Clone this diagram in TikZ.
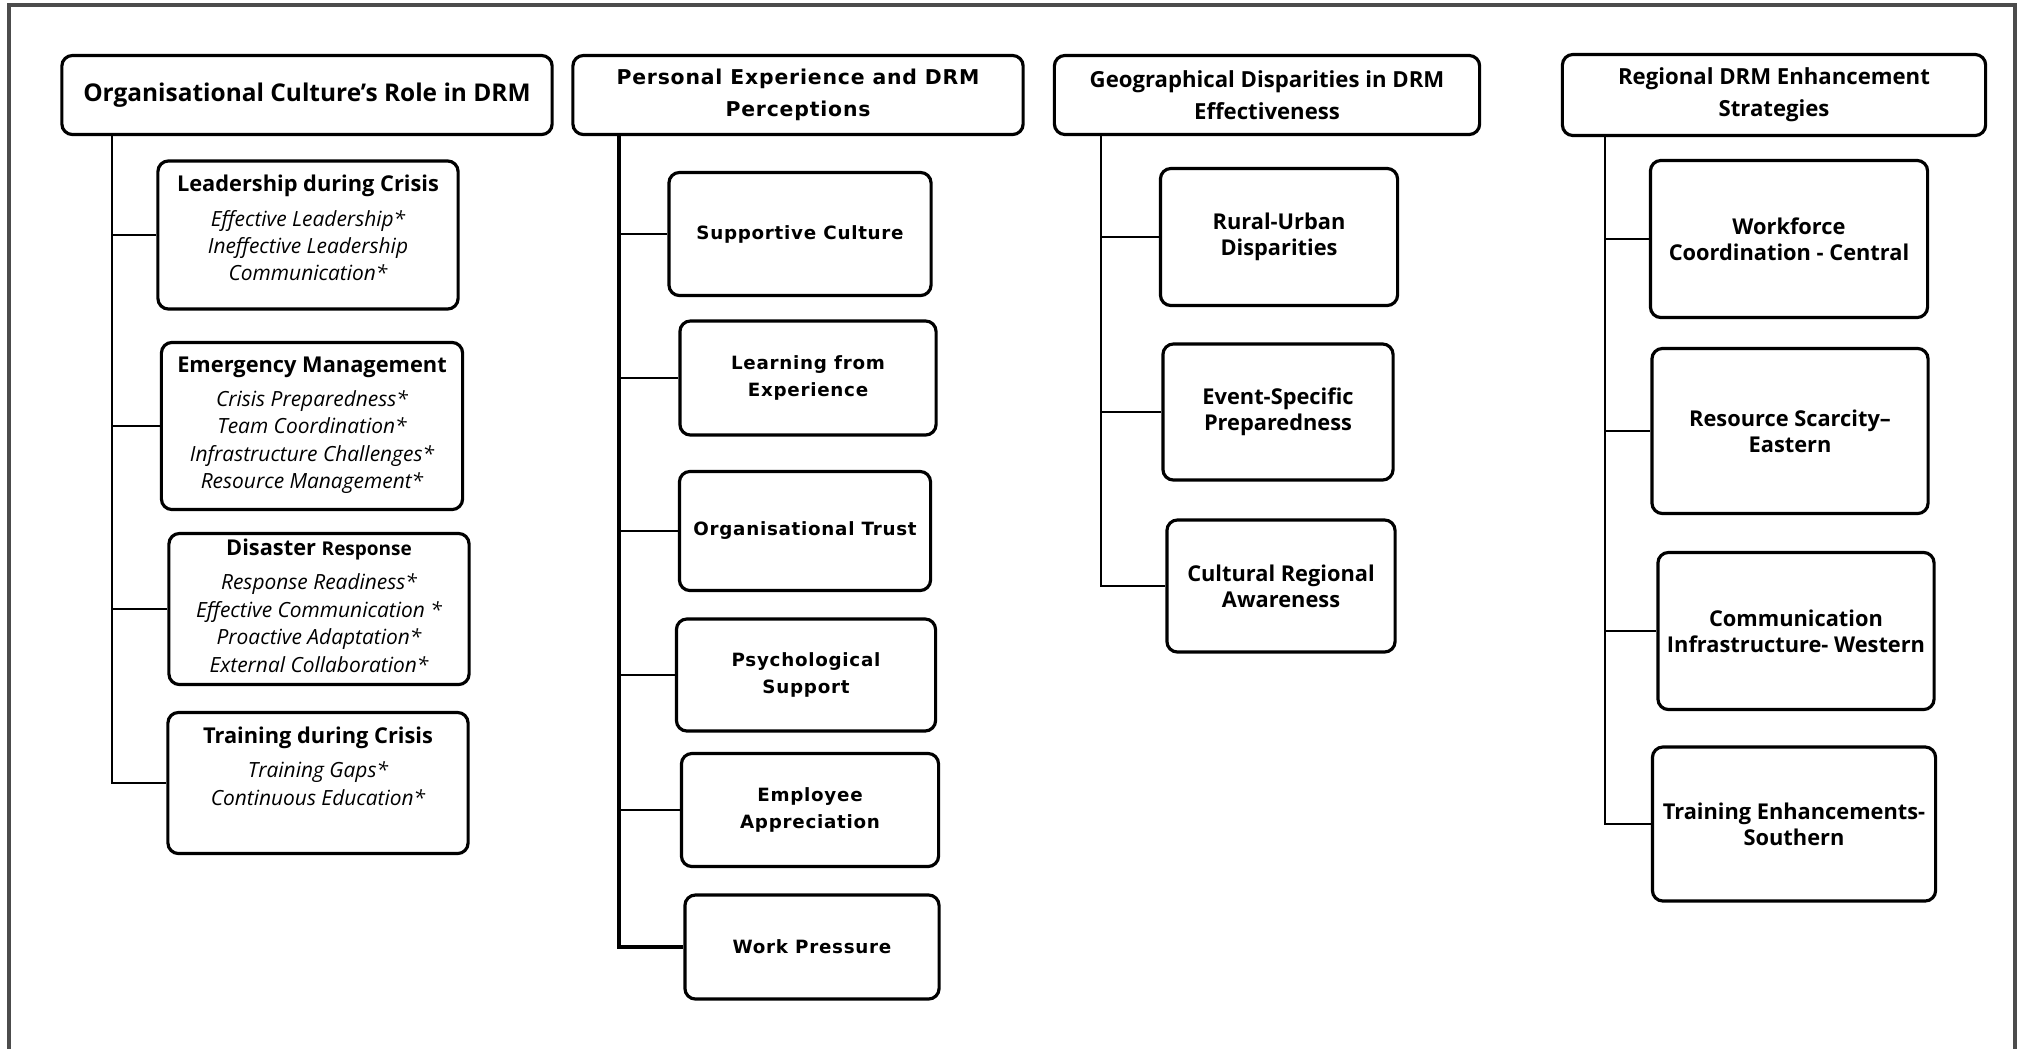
\documentclass[tikz,border=0pt]{standalone}
\usepackage{fontspec}
\setmainfont{Open Sans}
\newfontfamily\widefont{DejaVu Sans}[LetterSpace=4]
\usetikzlibrary{positioning}

% text block pinned to the top of a box
\newcommand{\topbox}[3][4pt]{\parbox[c][#2][t]{3.0cm}{\centering\vspace*{#1}#3}}
\newcommand{\itemfont}{\fontsize{5.95}{7.8}\selectfont\itshape}

\begin{document}
\begin{tikzpicture}[x=0.01cm, y=-0.01cm,
          head/.style={rectangle, draw, line width=0.9pt, rounded corners=3pt,
                       align=center, inner sep=0pt, minimum height=0.79cm,
                       font=\fontsize{6.3}{9}\selectfont\bfseries},
          topic/.style={rectangle, draw, line width=0.9pt, rounded corners=3pt,
                        inner sep=0pt, font=\fontsize{6.2}{8}\selectfont},
          leaf/.style={rectangle, draw, line width=0.9pt, rounded corners=3pt,
                       align=center, inner sep=0pt,
                       font=\fontsize{6.2}{7.4}\selectfont\bfseries},
          wide/.style={leaf, font=\widefont\fontsize{5.2}{7.6}\selectfont\bfseries},
          link/.style={line width=0.7pt}
        ]
        \useasboundingbox (0,0) rectangle (2022,1048);
        % outer frame, open at the bottom
        \draw[black!70, line width=0.9pt] (9,1060) |- (2015,5) -- (2015,1060);

        % Column 1: organisational culture
        \node[head, font=\fontsize{6.95}{9}\selectfont\bfseries,
              minimum width=4.9cm] (oc) at (307,95)
              {Organisational Culture's Role in DRM};
        \coordinate (t1) at (112,0);
        \node[topic, minimum width=2.89cm] (lead) at (308,235)
              {\topbox{1.48cm}{{\bfseries Leadership during Crisis}\\[2pt]
               \itemfont Effective Leadership*\\ Ineffective Leadership\\
               Communication*}};
        \node[topic, minimum width=3.01cm] (emerg) at (312,426)
              {\topbox{1.67cm}{{\bfseries Emergency Management}\\[2pt]
               \itemfont Crisis Preparedness*\\ Team Coordination*\\
               Infrastructure Challenges*\\ Resource Management*}};
        \node[topic, minimum width=2.93cm] (disas) at (319,609)
              {\topbox[1.5pt]{1.51cm}{{\bfseries Disaster {\fontsize{5.4}{7}\selectfont Response}}\\[2pt]
               \itemfont Response Readiness*\\ Effective Communication *\\
               Proactive Adaptation*\\ External Collaboration*}};
        \node[topic, minimum width=2.92cm] (train) at (318,783)
              {\topbox{1.41cm}{{\bfseries Training during Crisis}\\[2pt]
               \itemfont Training Gaps*\\ Continuous Education*}};
        \draw[link] (oc.south -| t1) |- (train.west);
        \draw[link] (t1 |- lead.west) -- (lead.west);
        \draw[link] (t1 |- emerg.west) -- (emerg.west);
        \draw[link] (t1 |- disas.west) -- (disas.west);

        % Column 2: personal experience
        \node[head, font=\widefont\fontsize{5.8}{9}\selectfont\bfseries,
              minimum width=4.5cm] (pe) at (798,95)
              {Personal Experience and DRM\\ Perceptions};
        \coordinate (t2) at (619,0);
        \node[wide, minimum width=2.62cm, minimum height=1.23cm] (supp) at (800,234)
              {Supportive Culture};
        \node[wide, minimum width=2.56cm, minimum height=1.14cm] (learn) at (808,378)
              {Learning from\\ Experience};
        \node[wide, minimum width=2.51cm, minimum height=1.19cm] (trust) at (805,531)
              {Organisational Trust};
        \node[wide, minimum width=2.59cm, minimum height=1.12cm] (psych) at (806,675)
              {Psychological\\ Support};
        \node[wide, minimum width=2.57cm, minimum height=1.13cm] (appr) at (810,810)
              {Employee\\ Appreciation};
        \node[wide, minimum width=2.54cm, minimum height=1.04cm] (press) at (812,947)
              {Work Pressure};
        \draw[link, line width=1pt] (pe.south -| t2) |- (press.west);
        \draw[link] (t2 |- supp.west) -- (supp.west);
        \draw[link] (t2 |- learn.west) -- (learn.west);
        \draw[link] (t2 |- trust.west) -- (trust.west);
        \draw[link] (t2 |- psych.west) -- (psych.west);
        \draw[link] (t2 |- appr.west) -- (appr.west);

        % Column 3: geographical disparities
        \node[head, minimum width=4.25cm] (geo) at (1267,95)
              {Geographical Disparities in DRM\\ Effectiveness};
        \coordinate (t3) at (1101,0);
        \node[leaf, minimum width=2.37cm, minimum height=1.37cm] (rural) at (1279,237)
              {Rural-Urban\\ Disparities};
        \node[leaf, minimum width=2.30cm, minimum height=1.36cm] (event) at (1278,412)
              {Event-Specific\\ Preparedness};
        \node[leaf, minimum width=2.28cm, minimum height=1.32cm] (cult) at (1281,586)
              {Cultural Regional\\ Awareness};
        \draw[link] (geo.south -| t3) |- (cult.west);
        \draw[link] (t3 |- rural.west) -- (rural.west);
        \draw[link] (t3 |- event.west) -- (event.west);

        % Column 4: regional strategies
        \node[head, minimum width=4.23cm, minimum height=0.81cm] (reg) at (1774,95)
              {Regional DRM Enhancement\\ Strategies};
        \coordinate (t4) at (1605,0);
        \node[leaf, minimum width=2.77cm, minimum height=1.57cm] (work) at (1789,239)
              {Workforce\\ Coordination - Central};
        \node[leaf, minimum width=2.76cm, minimum height=1.65cm] (scarce) at (1790,431)
              {Resource Scarcity--\\ Eastern};
        \node[leaf, minimum width=2.76cm, minimum height=1.57cm] (comm) at (1796,631)
              {Communication\\ Infrastructure- Western};
        \node[leaf, minimum width=2.83cm, minimum height=1.54cm] (south) at (1794,824)
              {Training Enhancements-\\ Southern};
        \draw[link] (reg.south -| t4) |- (south.west);
        \draw[link] (t4 |- work.west) -- (work.west);
        \draw[link] (t4 |- scarce.west) -- (scarce.west);
        \draw[link] (t4 |- comm.west) -- (comm.west);
      \end{tikzpicture}
\end{document}
